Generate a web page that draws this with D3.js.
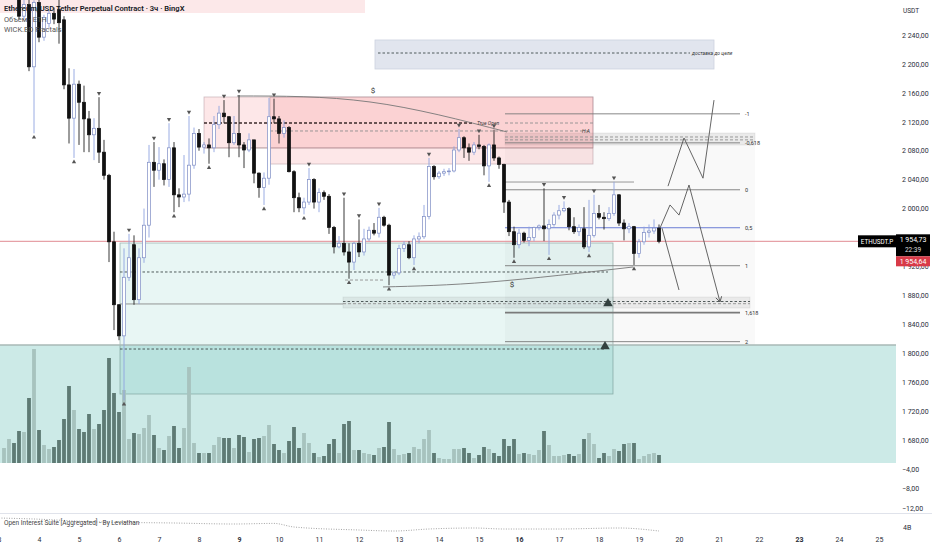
<!DOCTYPE html>
<html><head><meta charset="utf-8">
<script src="https://cdn.jsdelivr.net/npm/d3@7"></script>
<style>
html,body{margin:0;padding:0;background:#fff;overflow:hidden;}
svg{display:block;font-family:Roboto,"Noto Sans",sans-serif;}
</style></head><body>
<svg id="c" width="932" height="550"></svg>
<script>
// ---------- DATA ----------
const opens  =[2300,2305,2310,2300,2266,2282,2196,2285,2237,2256,2270,2275,2261,2171,2125,2172,2147,2124,2102,2111,2078,2046,1954,1867,1824,1905,1950,1874,1932,1977,2064,2053,2062,2040,2084,2019,2016,2020,2060,2104,2085,2088,2084,2116,2132,2127,2091,2104,2088,2081,2095,2049,2029,2042,2127,2124,2104,2112,2051,2015,2001,2009,2040,2009,2022,2017,1974,1947,1952,1940,1926,1952,1940,1958,1970,1966,1988,1977,1908,1911,1945,1950,1932,1958,1961,1989,2058,2044,2049,2051,2052,2081,2098,2084,2078,2088,2086,2059,2088,2070,2061,2009,1968,1950,1966,1956,1960,1974,1976,1972,1978,1991,1997,2000,1975,1968,1972,1947,1963,1993,1988,1986,1993,2019,1980,1972,1975,1938,1954,1967,1969,1973];
const highs  =[2315,2318,2320,2305,2290,2290,2288,2292,2268,2275,2278,2290,2266,2194,2193,2177,2170,2135,2125,2154,2095,2048,1968,1868,1945,1965,1963,1945,2000,2088,2092,2085,2068,2118,2092,2028,2074,2128,2112,2110,2092,2097,2128,2142,2150,2128,2128,2157,2092,2104,2095,2050,2050,2153,2152,2128,2122,2114,2053,2022,2015,2056,2042,2028,2025,2020,1976,1962,2015,1952,1954,1985,1972,1975,1980,2001,1990,1979,1913,1950,1955,1955,1963,1967,2005,2070,2060,2052,2055,2056,2086,2110,2100,2090,2092,2102,2088,2090,2109,2072,2062,2012,1975,1972,1968,1975,1975,1978,2028,1985,1995,2005,2010,2002,1988,1978,2002,2012,2019,2005,1995,2002,2037,2020,1985,1980,1976,1958,1975,1978,1985,1978];
const lows   =[2292,2296,2298,2262,2262,2190,2104,2230,2232,2250,2255,2228,2165,2090,2070,2088,2078,2078,2067,2063,2040,1926,1832,1818,1735,1900,1867,1868,1925,1960,2030,2040,2032,2030,1995,2002,2009,2010,2055,2080,2076,2062,2078,2110,2118,2071,2088,2071,2056,2078,2035,2015,2005,2033,2118,2090,2098,2050,1995,1995,1992,2005,2000,1995,2012,1965,1938,1945,1935,1903,1915,1933,1935,1955,1963,1960,1975,1894,1903,1908,1940,1930,1922,1952,1958,1985,2040,2041,2045,2046,2050,2078,2070,2066,2074,2082,2046,2037,2066,2055,1994,1962,1932,1945,1953,1948,1955,1970,1955,1936,1975,1985,1995,1970,1965,1962,1944,1940,1960,1985,1971,1983,1990,1976,1956,1966,1922,1932,1950,1960,1965,1952];
const closes =[2305,2310,2302,2266,2282,2196,2285,2237,2264,2270,2262,2257,2171,2125,2172,2147,2124,2102,2111,2078,2046,1954,1867,1824,1905,1932,1874,1932,1977,2064,2053,2062,2040,2084,2019,2016,2020,2060,2104,2085,2088,2084,2116,2132,2127,2091,2104,2088,2081,2095,2049,2029,2042,2127,2124,2104,2112,2051,2015,2001,2009,2040,2009,2022,2017,1974,1947,1952,1940,1926,1952,1940,1958,1970,1966,1988,1977,1908,1911,1945,1950,1932,1958,1961,1989,2058,2044,2049,2051,2052,2081,2098,2084,2078,2088,2086,2059,2088,2070,2061,2009,1968,1950,1966,1956,1960,1974,1976,1972,1978,1991,1997,2000,1975,1968,1974,1947,1963,1993,1988,1986,1993,2019,1980,1972,1975,1938,1954,1967,1969,1973,1954.73];
const volumes=[15,24,20,32,31,65,114,33,18,14,16,23,44,77,53,34,31,49,34,39,53,105,70,51,73,24,30,29,35,48,28,15,13,27,37,15,35,96,20,10,10,10,18,26,25,25,15,28,26,11,24,25,27,38,19,13,10,22,36,15,30,20,10,6,7,19,24,10,39,42,13,13,10,9,8,15,16,41,14,8,9,10,16,14,24,33,10,5,4,4,14,14,15,10,5,8,16,14,10,7,24,17,24,9,10,9,8,13,32,18,7,7,8,9,7,9,24,30,19,5,10,7,14,12,19,20,20,4,7,9,10,8];
const fractalTops   =[19,25,30,33,37,44,47,54,61,68,71,75,85,91,95,98,108,112,118,122];
const fractalBottoms=[6,14,24,34,41,52,60,69,77,82,97,102,109,117,126];
const dayTicks=[3,4,5,6,7,8,9,10,11,12,13,14,15,16,17,18,19,20,21,22,23,24,25];
const weekStartDays=[9,16,23];
const priceTicks=[1680,1720,1760,1800,1840,1880,1920,2000,2040,2080,2120,2160,2200,2240];
const indTicks=[-4,-8,-12];
const oiIdx=[-1,6,19,34,46,54,58,71,78,85,94,100,111,123,131];
const oiVal=[4.45,4.4,4.25,4.2,4.15,4.18,4.0,3.85,3.8,3.9,3.95,3.9,3.9,3.95,3.8];
const lastPrice=1954.73, markPrice=1954.64;
const fib0=2026, fib1=1921;
const fibLevels=[-1,-0.618,0,0.5,1,1.618,2];
const fibLabels=["-1","-0,618","0","0,5","1","1,618","2"];
// zones in (candle index, price)
const zones=[
 {kind:"topPink",i0:-2,i1:72.2,p0:2300,p1:2270.4},
 {kind:"bigGreen",i0:-2,i1:180,p0:1811.4,p1:1600},
 {kind:"teal",i0:23.2,i1:121.8,p0:1952.4,p1:1743.6},
 {kind:"fibBg",i0:100.2,i1:150.2,p0:2104.5,p1:1811.4},
 {kind:"band",i0:100.2,i1:150.2,p0:2104.5,p1:2087.9},
 {kind:"band",i0:67.8,i1:149.2,p0:1877.7,p1:1862.5},
 {kind:"pink",i0:40,i1:117.8,p0:2154.3,p1:2083.8},
 {kind:"pink",i0:53.2,i1:117.8,p0:2154.3,p1:2061.6},
 {kind:"target",i0:74.2,i1:142,p0:2233.1,p1:2193}
];
const hlines=[
 {p:2215.1,i0:74.8,i1:137.2,kind:"dashDark"},
 {p:2118.3,i0:40,i1:94,kind:"dashBold"},
 {p:2118.3,i0:100.2,i1:117.8,kind:"dash"},
 {p:2107.3,i0:53.2,i1:117.2,kind:"dash"},
 {p:2083.8,i0:40,i1:117.8,kind:"thin"},
 {p:2036.7,i0:100.2,i1:126,kind:"solid"},
 {p:2099,i0:100.2,i1:150.2,kind:"dash"},
 {p:2095,i0:100.2,i1:150.2,kind:"dash"},
 {p:1871.5,i0:67.8,i1:149.2,kind:"dashDark"},
 {p:1868.5,i0:67.8,i1:149.2,kind:"dash"},
 {p:1912.3,i0:23.2,i1:120.8,kind:"dashDark"},
 {p:1868.1,i0:23.2,i1:67.8,kind:"solid"},
 {p:1805.8,i0:23.2,i1:120.2,kind:"dashDark"},
 {p:1901.2,i0:68.2,i1:76.2,kind:"dash"}
];
const arrowMarks=[{i:120.8,p:1866},{i:120.2,p:1806.5}];
const curveTop=[[46.6,2155.7],[73.2,2147.4],[100.6,2105.9]];
const curveBottom=[[75.8,1891.6],[97.2,1898.5],[125.8,1919.2]];
const dollarMarks=[{i:73.8,p:2160},{i:101.6,p:1891}];
const projA=[[131.2,1973],[133.2,2005],[135,1991],[137,2032.6],[143.2,1871]];
const projB=[[131.6,1973],[135,1887.4]];
const projC=[[132.8,2031],[136,2097.6],[139.8,2042],[142,2150]];
const textNotes=[
 {t:"True Open",i:94.6,p:2118.3},
 {t:"H.A",i:115.6,p:2107.3},
 {t:"доставка до цели",i:137.6,p:2215.1}
];

// ---------- SCALES ----------
const svg=d3.select("#c");
const plotR=896, plotB=463;
const x=d3.scaleLinear().domain([0,1]).range([4,9]);
const y=d3.scaleLinear().domain([1680,2240]).range([440,35]);
const yVol=d3.scaleLinear().domain([0,120]).range([plotB,plotB-120]);
const xDay=d3.scaleLinear().domain([4,5]).range([39,79]);
const yInd=d3.scaleLinear().domain([-4,-12]).range([469,508]);
const yOI=d3.scaleLinear().domain([4,3]).range([527,547]);
const loc=d3.formatLocale({decimal:",",thousands:"\u00a0",grouping:[3],minus:"\u2212"});
const fmt=loc.format(",.2f");

svg.append("rect").attr("width",932).attr("height",550).attr("fill","#fff");
svg.append("clipPath").attr("id","plot").append("rect").attr("x",0).attr("y",0).attr("width",plotR).attr("height",plotB);
const g=svg.append("g").attr("clip-path","url(#plot)");

// zones
const zStyle={
 topPink:{fill:"#fce8e9",stroke:"none"},
 bigGreen:{fill:"rgba(0,150,136,0.2)",stroke:"none"},
 teal:{fill:"rgba(0,150,136,0.09)",stroke:"rgba(90,125,120,0.55)"},
 fibBg:{fill:"rgba(0,0,0,0.025)",stroke:"none"},
 band:{fill:"rgba(0,0,0,0.06)",stroke:"rgba(0,0,0,0.08)"},
 pink:{fill:"rgba(242,54,69,0.12)",stroke:"rgba(170,140,150,0.55)"},
 target:{fill:"#e1e5ee",stroke:"#ccd2df"}
};
g.selectAll("rect.zone").data(zones).join("rect").attr("class","zone")
 .attr("x",d=>x(d.i0)).attr("y",d=>y(d.p0))
 .attr("width",d=>x(d.i1)-x(d.i0)).attr("height",d=>y(d.p1)-y(d.p0))
 .attr("fill",d=>zStyle[d.kind].fill).attr("stroke",d=>zStyle[d.kind].stroke).attr("stroke-width",0.8);
// green zone top border
g.append("line").attr("x1",0).attr("x2",plotR).attr("y1",y(1811.4)).attr("y2",y(1811.4)).attr("stroke","#a9b9b6").attr("stroke-width",1.5);

// volumes
g.selectAll("rect.vol").data(volumes).join("rect").attr("class","vol")
 .attr("x",(d,i)=>x(i)-1.9).attr("width",3.8)
 .attr("y",d=>yVol(d)).attr("height",d=>plotB-yVol(d))
 .attr("fill",(d,i)=>closes[i]>=opens[i]?"#a7c3be":"#5e7a74");

// horizontal lines
const lStyle={
 solid:{s:"#8a8a8a",w:0.9,da:null},
 thin:{s:"rgba(150,120,125,0.6)",w:0.8,da:null},
 dash:{s:"#8f8f8f",w:0.9,da:"3,2"},
 dashDark:{s:"#404a4a",w:0.9,da:"2.5,2"},
 dashBold:{s:"#3a2a2a",w:1.3,da:"3,2"}
};
g.selectAll("line.hl").data(hlines).join("line").attr("class","hl")
 .attr("x1",d=>x(d.i0)).attr("x2",d=>x(d.i1)).attr("y1",d=>y(d.p)).attr("y2",d=>y(d.p))
 .attr("stroke",d=>lStyle[d.kind].s).attr("stroke-width",d=>lStyle[d.kind].w).attr("stroke-dasharray",d=>lStyle[d.kind].da);

// fib levels
const fibs=fibLevels.map((l,k)=>({p:fib0+(fib1-fib0)*l,label:fibLabels[k],l}));
g.selectAll("line.fib").data(fibs).join("line").attr("class","fib")
 .attr("x1",x(100.2)).attr("x2",x(147.2)).attr("y1",d=>y(d.p)).attr("y2",d=>y(d.p))
 .attr("stroke",d=>d.l===0.5?"#5b6fd0":"#7a7a7a").attr("stroke-width",d=>d.l===1.618?1.6:0.9);
g.selectAll("text.fib").data(fibs).join("text").attr("class","fib")
 .attr("x",x(148.2)).attr("y",d=>y(d.p)+2).attr("font-size",5.5).attr("fill","#333").text(d=>d.label);

// curves
const curve=d3.line().x(d=>x(d[0])).y(d=>y(d[1])).curve(d3.curveNatural);
[curveTop,curveBottom].forEach(c=>g.append("path").attr("d",curve(c)).attr("fill","none").attr("stroke","#777").attr("stroke-width",0.9));
g.selectAll("text.dol").data(dollarMarks).join("text").attr("class","dol")
 .attr("x",d=>x(d.i)).attr("y",d=>y(d.p)).attr("font-size",8).attr("fill","#333").attr("text-anchor","middle").text("$");

// notes
g.selectAll("text.note").data(textNotes).join("text").attr("class","note")
 .attr("x",d=>x(d.i)).attr("y",d=>y(d.p)+1.8).attr("font-size",5).attr("font-style","italic").attr("fill","#333")
 .text(d=>d.t);

// price line
g.append("line").attr("x1",0).attr("x2",plotR).attr("y1",y(lastPrice)).attr("y2",y(lastPrice)).attr("stroke","#e08a92").attr("stroke-width",1);

// candles
const idx=d3.range(opens.length);
const up=i=>closes[i]>=opens[i];
g.selectAll("line.wick").data(idx).join("line").attr("class","wick")
 .attr("x1",i=>x(i)).attr("x2",i=>x(i)).attr("y1",i=>y(highs[i])).attr("y2",i=>y(lows[i]))
 .attr("stroke",i=>up(i)?"#8ea3e0":"#222").attr("stroke-width",0.9);
g.selectAll("rect.body").data(idx).join("rect").attr("class","body")
 .attr("x",i=>x(i)-1.6).attr("width",3.2)
 .attr("y",i=>y(Math.max(opens[i],closes[i])))
 .attr("height",i=>Math.max(0.8,Math.abs(y(opens[i])-y(closes[i]))))
 .attr("fill",i=>up(i)?"#fff":"#111").attr("stroke",i=>up(i)?"#7d8cc4":"#111").attr("stroke-width",0.7);

// fractal markers
const tri=d3.symbol().type(d3.symbolTriangle).size(8);
g.selectAll("path.ft").data(fractalTops).join("path").attr("class","ft").attr("d",tri)
 .attr("transform",i=>`translate(${x(i)},${y(highs[i])-4}) rotate(180)`).attr("fill","#555");
g.selectAll("path.fb").data(fractalBottoms).join("path").attr("class","fb").attr("d",tri)
 .attr("transform",i=>`translate(${x(i)},${y(lows[i])+4})`).attr("fill","#555");
const tri2=d3.symbol().type(d3.symbolTriangle).size(40);
g.selectAll("path.am").data(arrowMarks).join("path").attr("class","am").attr("d",tri2)
 .attr("transform",d=>`translate(${x(d.i)},${y(d.p)-2})`).attr("fill","#33413f");

// projections
const pl=d3.line().x(d=>x(d[0])).y(d=>y(d[1]));
[projA,projB,projC].forEach(p=>g.append("path").attr("d",pl(p)).attr("fill","none").attr("stroke","#555").attr("stroke-width",0.9));
const endA=projA[projA.length-1], preA=projA[projA.length-2];
const ang=Math.atan2(y(endA[1])-y(preA[1]),x(endA[0])-x(preA[0]))*180/Math.PI;
g.append("path").attr("d","M-5,-3L0,0L-5,3").attr("fill","none").attr("stroke","#555").attr("stroke-width",0.9)
 .attr("transform",`translate(${x(endA[0])},${y(endA[1])}) rotate(${ang})`);

// ---------- AXES ----------
const pAx=svg.append("g").attr("transform","translate(899,0)")
 .call(d3.axisRight(y).tickValues(priceTicks).tickSize(0).tickFormat(fmt));
pAx.select(".domain").remove();
pAx.selectAll("text").attr("font-size",7).attr("fill","#2a2e39").attr("font-family","Roboto,sans-serif").attr("dx",0);
svg.append("text").attr("x",903).attr("y",13).attr("font-size",6.5).attr("fill","#2a2e39").text("USDT");

const iAx=svg.append("g").attr("transform","translate(899,0)")
 .call(d3.axisRight(yInd).tickValues(indTicks).tickSize(0).tickFormat(loc.format(".2f")));
iAx.select(".domain").remove();
iAx.selectAll("text").attr("font-size",7).attr("fill","#2a2e39").attr("font-family","Roboto,sans-serif");

// separator & OI panel
svg.append("line").attr("x1",0).attr("x2",932).attr("y1",513.5).attr("y2",513.5).attr("stroke","#e0e3eb");
svg.append("path").attr("d",d3.line().x((d,k)=>x(oiIdx[k])).y(d=>yOI(d)).curve(d3.curveMonotoneX)(oiVal))
 .attr("fill","none").attr("stroke","#9a9a9a").attr("stroke-width",0.9).attr("stroke-dasharray","1,1.5");
svg.append("text").attr("x",4).attr("y",525).attr("font-size",6.5).attr("fill","#444").text("Open Interest Suite [Aggregated] - By Leviathan");
svg.append("text").attr("x",903).attr("y",530).attr("font-size",7).attr("fill","#2a2e39").text("4B");

const dAx=svg.append("g").attr("transform","translate(0,537)")
 .call(d3.axisBottom(xDay).tickValues(dayTicks).tickSize(0).tickFormat(d=>d));
dAx.select(".domain").remove();
dAx.selectAll("text").attr("font-size",7).attr("fill","#2a2e39").attr("font-family","Roboto,sans-serif")
 .attr("font-weight",d=>weekStartDays.includes(d)?700:400).attr("dy","0.3em");

// header
svg.append("text").attr("x",4).attr("y",11).attr("font-size",7.6).attr("font-weight",600).attr("fill","#131722")
 .text("Ethereum/USD Tether Perpetual Contract · 3ч · BingX");
svg.append("text").attr("x",4).attr("y",22).attr("font-size",7.4).attr("fill","#555").text("Объем · ETH");
svg.append("text").attr("x",4).attr("y",32).attr("font-size",7.4).attr("fill","#555").text("WICK.BD Fractals");

// badges
const yp=y(lastPrice);
svg.append("rect").attr("x",858).attr("y",yp-6).attr("width",38).attr("height",12).attr("fill","#000");
svg.append("text").attr("x",877).attr("y",yp+2.3).attr("text-anchor","middle").attr("font-size",6.3).attr("fill","#fff").text("ETHUSDT.P");
svg.append("rect").attr("x",896).attr("y",yp-7).attr("width",34).attr("height",22).attr("fill","#000");
svg.append("text").attr("x",913).attr("y",yp+1).attr("text-anchor","middle").attr("font-size",7).attr("fill","#fff").text(fmt(lastPrice));
svg.append("text").attr("x",913).attr("y",yp+11).attr("text-anchor","middle").attr("font-size",6.5).attr("fill","#ddd").text("22:39");
svg.append("rect").attr("x",896).attr("y",yp+15).attr("width",34).attr("height",10).attr("fill","#d83a48");
svg.append("text").attr("x",913).attr("y",yp+22.5).attr("text-anchor","middle").attr("font-size",7).attr("fill","#fff").text(fmt(markPrice));
</script>
</body></html>
